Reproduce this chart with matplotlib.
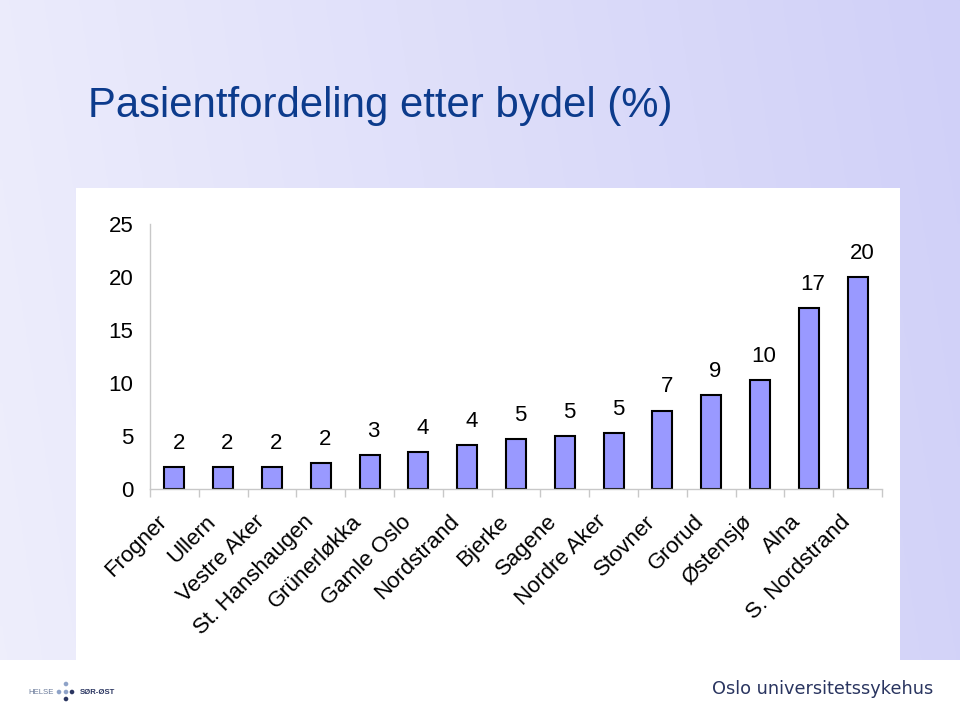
import numpy as np
import matplotlib
matplotlib.use("Agg")
import matplotlib.pyplot as plt
from matplotlib.patches import Rectangle, Circle

plt.rcParams['font.family'] = ['Liberation Sans', 'DejaVu Sans']

bydeler = ['Frogner', 'Ullern', 'Vestre Aker', 'St. Hanshaugen', 'Grünerløkka',
           'Gamle Oslo', 'Nordstrand', 'Bjerke', 'Sagene', 'Nordre Aker',
           'Stovner', 'Grorud', 'Østensjø', 'Alna', 'S. Nordstrand']
andel = [2.1, 2.1, 2.1, 2.45, 3.2, 3.5, 4.15, 4.7, 5.0, 5.3, 7.4, 8.9, 10.3, 17.1, 20.0]
etiketter = ['2', '2', '2', '2', '3', '4', '4', '5', '5', '5', '7', '9', '10', '17', '20']
yticks = [0, 5, 10, 15, 20, 25]

W, H = 960, 716
fig = plt.figure(figsize=(W / 100, H / 100), dpi=100)

# lavender gradient background
bg = fig.add_axes([0, 0, 1, 1], zorder=-10)
gx = np.linspace(0, 1, 256)
gy = np.linspace(0, 1, 256)
GX, GY = np.meshgrid(gx, gy)
t = np.clip(0.85 * GX + 0.1 * (1 - GY) + 0.05, 0, 1)
c0 = np.array([240, 240, 252]) / 255
c1 = np.array([208, 208, 248]) / 255
img = c0[None, None, :] * (1 - t[..., None]) + c1[None, None, :] * t[..., None]
bg.imshow(img, extent=[0, W, H, 0], aspect='auto')
bg.set_xlim(0, W)
bg.set_ylim(H, 0)
bg.axis('off')
# white chart area and footer
bg.add_patch(Rectangle((76, 188), 824, 472, color='white', lw=0))
bg.add_patch(Rectangle((0, 660), W, H - 660, color='white', lw=0))

fig.text(88 / W, 1 - 117 / H, 'Pasientfordeling etter bydel (%)', fontsize=30.2,
         color='#0c3b8c', ha='left', va='baseline')

# footer
fig.text(712 / W, 1 - 689 / H, 'Oslo universitetssykehus', fontsize=12.8,
         family='DejaVu Sans', color='#2a3560', ha='left', va='center')
fig.text(28 / W, 1 - 692 / H, 'HELSE', fontsize=5.6, color='#6a7a9a',
         ha='left', va='center')
fig.text(80 / W, 1 - 692 / H, 'SØR-ØST', fontsize=5.6, weight='bold',
         color='#2a3560', ha='left', va='center')
for (cx, cy, col) in [(59, 692, '#8fa3c8'), (66, 692, '#8fa3c8'), (72, 692, '#2a3560'),
                      (66, 684, '#8fa3c8'), (66, 699, '#2a3560')]:
    bg.add_patch(Circle((cx, cy), 2.3, color=col, lw=0))

# chart
ax = fig.add_axes([150 / W, 1 - 489 / H, (882 - 150) / W, (489 - 224) / H])
ax.set_facecolor('none')
x = np.arange(len(bydeler))
ax.bar(x, andel, width=0.41, color='#9999ff', edgecolor='black', linewidth=1.5)
for xi, v, lab in zip(x, andel, etiketter):
    ax.annotate(lab, (xi, v), xytext=(3, 17), textcoords='offset points',
                ha='center', va='center', fontsize=16)

# category labels, rotated, ending just left of the category centre
for xi, name in zip(x, bydeler):
    ax.annotate(name, (xi, 0), xycoords=('data', 'axes fraction'),
                xytext=(-13, -16), textcoords='offset points',
                rotation=45, ha='right', va='top', rotation_mode='anchor',
                fontsize=16)

ax.set_xlim(-0.5, len(bydeler) - 0.5)
ax.set_ylim(0, 25)
ax.set_yticks(yticks)
ax.tick_params(axis='y', length=0, labelsize=16, pad=12)
ax.set_xticks([])
ax.set_xticks(np.arange(-0.5, len(bydeler)), minor=True)
ax.tick_params(axis='x', which='minor', length=6, color='#c8c8c8', width=1)
for s in ['top', 'right']:
    ax.spines[s].set_visible(False)
for s in ['left', 'bottom']:
    ax.spines[s].set_color('#c8c8c8')
    ax.spines[s].set_linewidth(1)

fig.savefig('out.png', dpi=100)
